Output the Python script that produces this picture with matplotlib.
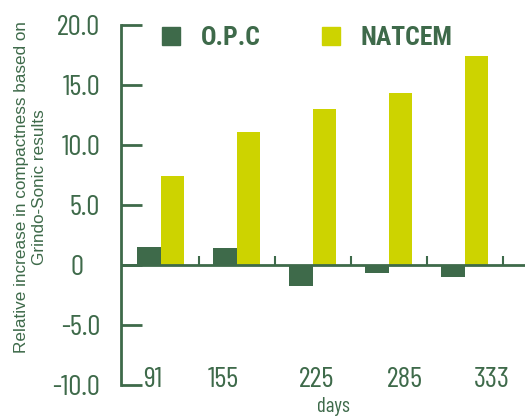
import numpy as np
import matplotlib
matplotlib.use("Agg")
import matplotlib.pyplot as plt
from matplotlib.patches import Patch
from matplotlib.transforms import ScaledTranslation

# data
days = ["91", "155", "225", "285", "333"]
opc = [1.5, 1.4, -1.75, -0.7, -1.0]
natcem = [7.4, 11.1, 13.0, 14.3, 17.4]
yticks = [-10, -5, 0, 5, 10, 15, 20]
ytick_labels = ["-10.0", "-5.0", "0", "5.0", "10.0", "15.0", "20.0"]

dark = "#3e6a4a"
lime = "#cdd300"
narrow = ["Barlow Condensed", "Roboto Condensed", "DejaVu Sans"]
bold_narrow = ["Roboto Condensed", "DejaVu Sans"]

fig = plt.figure(figsize=(5.25, 4.16), dpi=100)
ax = fig.add_axes([0.2305, 0.0745, 0.7695, 0.8655])

x = np.arange(len(days))
w = 0.31
ax.bar(x - w / 2, opc, w, color=dark, label="O.P.C")
ax.bar(x + w / 2, natcem, w, color=lime, label="NATCEM")

ax.set_xlim(-0.52, 4.79)
ax.set_ylim(-10, 20)

# zero line with small upward ticks between groups
ax.axhline(0, color=dark, lw=2)
ax.vlines(x + 0.5, 0, 0.75, color=dark, lw=1.5)

for s in ["top", "right", "bottom"]:
    ax.spines[s].set_visible(False)
ax.spines["left"].set_color(dark)
ax.spines["left"].set_linewidth(2)

ax.set_yticks(yticks)
ax.set_yticklabels(ytick_labels, family=narrow, fontsize=21, color=dark)
ax.tick_params(axis="y", direction="in", length=15, width=2, color=dark, pad=15)
# "0" sits under the units digit, not right aligned
for lab in ax.get_yticklabels():
    if lab.get_text() == "0":
        lab.set_transform(lab.get_transform() + ScaledTranslation(-17 / 100, 0, fig.dpi_scale_trans))

# x labels hand-placed in the original
shift = [-0.1, -0.18, 0.05, 0.21, 0.36]
ax.set_xticks(x + np.array(shift))
ax.set_xticklabels(days, family=narrow, fontsize=21, color=dark)
ax.tick_params(axis="x", length=0, pad=-13)
ax.text(2.27, -11.8, "days", family=narrow, fontsize=15, color=dark, ha="center", va="center")

fig.text(0.058, 0.55, "Relative increase in compactness based on\nGrindo-Sonic results",
         rotation=90, ha="center", va="center", fontsize=12.3, color=dark,
         family=["Liberation Sans", "DejaVu Sans"], linespacing=1.3, multialignment="center")

handles = [Patch(color=dark), Patch(color=lime)]
ax.legend(handles, ["O.P.C", "NATCEM"], ncol=2, loc="upper left", bbox_to_anchor=(0.045, 1.06),
          frameon=False, handlelength=0.7, handleheight=0.7, handletextpad=0.8, columnspacing=2.4,
          prop={"family": bold_narrow, "weight": "bold", "size": 18.5}, labelcolor=dark)

fig.savefig("out.png", dpi=100)
